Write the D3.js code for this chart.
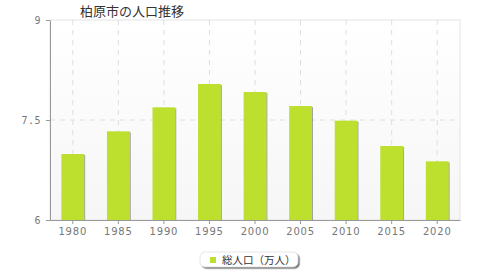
<!DOCTYPE html>
<html>
<head>
<meta charset="utf-8">
<script src="https://cdn.jsdelivr.net/npm/d3@7"></script>
<style>
  body { margin: 0; background: #fff; }
  text { font-family: "Noto Sans CJK JP", "DejaVu Sans", sans-serif; }
</style>
</head>
<body>
<div id="chart"></div>
<script>
// data
var years = ["1980", "1985", "1990", "1995", "2000", "2005", "2010", "2015", "2020"];
var population = [6.99, 7.33, 7.69, 8.04, 7.92, 7.71, 7.49, 7.11, 6.88];
var yTicks = [6, 7.5, 9];
var yTickLabels = ["6", "7.5", "9"];
var title = "柏原市の人口推移";
var seriesName = "総人口（万人）";

var W = 480, H = 280;
var margin = {top: 20, right: 20, bottom: 60, left: 50};
var width = W - margin.left - margin.right,
  height = H - margin.top - margin.bottom;

var svg = d3.select("#chart")
  .append("svg")
  .attr("width", W)
  .attr("height", H);

var defs = svg.append("defs");
var grad = defs.append("linearGradient")
  .attr("id", "bg").attr("x1", 0).attr("y1", 0).attr("x2", 0).attr("y2", 1);
grad.append("stop").attr("offset", "0%").attr("stop-color", "#ffffff");
grad.append("stop").attr("offset", "100%").attr("stop-color", "#f6f6f6");

var shadow = defs.append("filter").attr("id", "shadow")
  .attr("x", "-20%").attr("y", "-20%").attr("width", "150%").attr("height", "160%");
shadow.append("feDropShadow").attr("dx", 1).attr("dy", 1)
  .attr("stdDeviation", 0.5).attr("flood-color", "#555").attr("flood-opacity", 0.55);

var lshadow = defs.append("filter").attr("id", "lshadow")
  .attr("x", "-20%").attr("y", "-20%").attr("width", "150%").attr("height", "180%");
lshadow.append("feDropShadow").attr("dx", 1.5).attr("dy", 1.5)
  .attr("stdDeviation", 0.6).attr("flood-color", "#333").attr("flood-opacity", 0.7);

var g = svg.append("g")
  .attr("transform", "translate(" + margin.left + "," + margin.top + ")");

var x = d3.scaleBand().domain(years).range([0, width]).padding(0);
var y = d3.scaleLinear().domain([6, 9]).range([height, 0]);

// plot background
g.append("rect")
  .attr("width", width).attr("height", height)
  .attr("fill", "url(#bg)")
  .attr("stroke", "#e4e4e4");

// vertical dashed grid
g.selectAll(".vgrid").data(years).enter().append("line")
  .attr("x1", d => x(d) + x.bandwidth() / 2)
  .attr("x2", d => x(d) + x.bandwidth() / 2)
  .attr("y1", 0).attr("y2", height)
  .attr("stroke", "#dedede").attr("stroke-dasharray", "5,5");

// horizontal dashed grid
g.selectAll(".hgrid").data(yTicks.slice(1, -1)).enter().append("line")
  .attr("x1", 0).attr("x2", width)
  .attr("y1", d => y(d)).attr("y2", d => y(d))
  .attr("stroke", "#dedede").attr("stroke-dasharray", "5,5");

// bars
var bw = x.bandwidth() * 0.5;
g.selectAll(".bar").data(population).enter().append("rect")
  .attr("x", (d, i) => x(years[i]) + (x.bandwidth() - bw) / 2)
  .attr("y", d => y(d))
  .attr("width", bw)
  .attr("height", d => height - y(d))
  .attr("fill", "#bde02f")
  .attr("filter", "url(#shadow)");

// y axis
var yAxis = g.append("g")
  .call(d3.axisLeft(y).tickValues(yTicks)
    .tickFormat((d, i) => yTickLabels[i]).tickSize(4).tickSizeOuter(0));
yAxis.select(".domain").attr("stroke", "#999");
yAxis.selectAll(".tick line").attr("stroke", "#999");
yAxis.selectAll(".tick text")
  .attr("x", -9)
  .attr("fill", "#777").attr("font-size", 10)
  .style("font-family", "DejaVu Sans Mono, monospace")
  .style("letter-spacing", "0.5px");

// x axis
var xAxis = g.append("g")
  .attr("transform", "translate(0," + height + ")")
  .call(d3.axisBottom(x).tickSize(4).tickSizeOuter(0));
xAxis.select(".domain").attr("stroke", "#999");
xAxis.selectAll(".tick line").attr("stroke", "#999");
xAxis.selectAll(".tick text")
  .attr("y", 8)
  .attr("fill", "#777").attr("font-size", 10)
  .style("font-family", "DejaVu Sans, sans-serif")
  .style("letter-spacing", "0.8px");

// title
svg.append("text")
  .attr("x", 80).attr("y", 16)
  .attr("font-size", 13).attr("fill", "#333")
  .text(title);

// legend
var lg = svg.append("g").attr("transform", "translate(200,252)");
lg.append("rect")
  .attr("width", 98).attr("height", 15).attr("rx", 5)
  .attr("fill", "#fff").attr("stroke", "#ccc").attr("stroke-width", 0.5)
  .attr("filter", "url(#lshadow)");
lg.append("rect")
  .attr("x", 10).attr("y", 5).attr("width", 6).attr("height", 6)
  .attr("fill", "#bde02f");
lg.append("text")
  .attr("x", 22).attr("y", 12)
  .attr("font-size", 10.5).attr("fill", "#333")
  .text(seriesName);
</script>
</body>
</html>
